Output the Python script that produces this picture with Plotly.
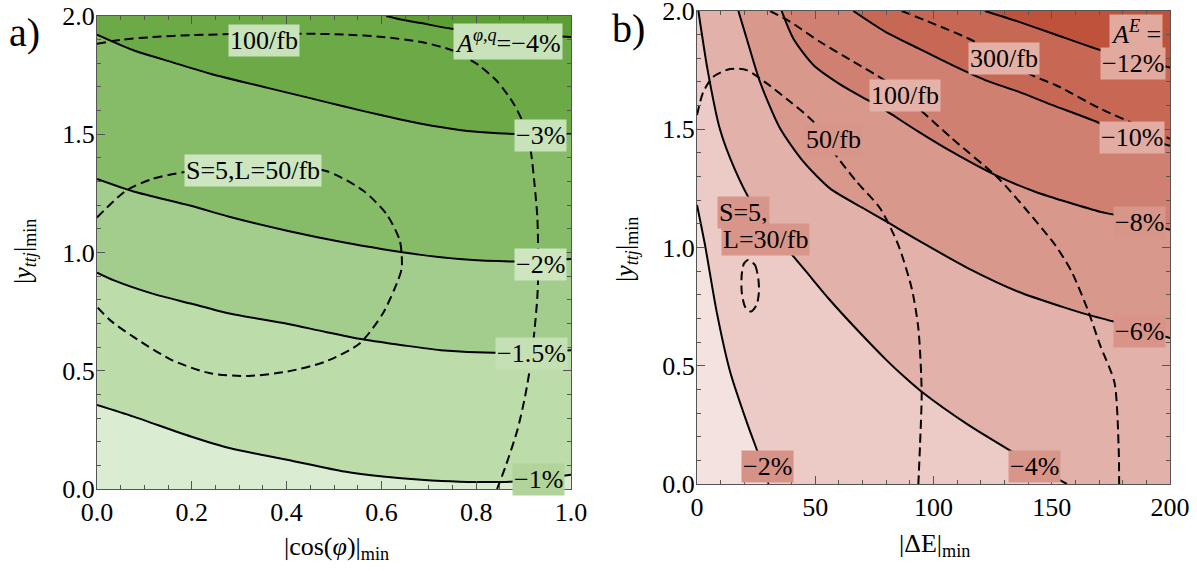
import plotly.graph_objects as go

W, H = 1197, 571

# ---------------- Panel a data: |cos(phi)|_min vs |y_ttj|_min ----------------
a_xrange = [0.0, 1.0]
a_yrange = [0.0, 2.0]
a_xticks = [0.0, 0.2, 0.4, 0.6, 0.8, 1.0]
a_yticks = [0.0, 0.5, 1.0, 1.5, 2.0]

# solid contours of A^{phi,q}
a_m4_x = [0.61, 0.644, 0.684, 0.749, 1.0]
a_m4_y = [2.0, 1.984, 1.970, 1.946, 1.911]
a_m3_x = [0.0, 0.077, 0.158, 0.239, 0.36, 0.441, 0.522, 0.603, 0.684, 0.765, 0.846, 0.883, 1.0]
a_m3_y = [1.921, 1.855, 1.805, 1.756, 1.696, 1.657, 1.617, 1.579, 1.544, 1.518, 1.504, 1.501, 1.501]
a_m2_x = [0.0, 0.077, 0.198, 0.279, 0.401, 0.522, 0.603, 0.684, 0.765, 0.883, 1.0]
a_m2_y = [1.311, 1.258, 1.198, 1.151, 1.092, 1.042, 1.014, 0.990, 0.972, 0.962, 0.972]
a_m15_x = [0.0, 0.036, 0.117, 0.198, 0.279, 0.401, 0.482, 0.563, 0.644, 0.725, 0.838, 1.0]
a_m15_y = [0.915, 0.882, 0.826, 0.784, 0.742, 0.699, 0.664, 0.632, 0.608, 0.587, 0.576, 0.587]
a_m1_x = [0.0, 0.077, 0.198, 0.279, 0.401, 0.522, 0.603, 0.684, 0.765, 0.874, 1.0]
a_m1_y = [0.355, 0.306, 0.222, 0.173, 0.124, 0.074, 0.053, 0.039, 0.031, 0.031, 0.06]

# dashed significance contours
a_l100_x = [0.0, 0.053, 0.117, 0.198, 0.33, 0.441, 0.522, 0.603, 0.684, 0.749, 0.806, 0.846,
            0.879, 0.903, 0.915, 0.923, 0.929, 0.931, 0.929, 0.923, 0.915, 0.903, 0.887, 0.862, 0.844]
a_l100_y = [1.883, 1.900, 1.911, 1.919, 1.925, 1.925, 1.922, 1.911, 1.890, 1.855, 1.791, 1.720,
            1.629, 1.530, 1.431, 1.290, 1.148, 0.936, 0.812, 0.671, 0.531, 0.390, 0.250, 0.096, 0.0]
a_l50_x = [0.0, 0.061, 0.117, 0.182, 0.33, 0.481, 0.562, 0.611, 0.639, 0.643, 0.635, 0.603, 0.554,
           0.481, 0.40, 0.32, 0.239, 0.158, 0.077, 0.028, 0.0]
a_l50_y = [1.148, 1.261, 1.311, 1.339, 1.36, 1.346, 1.261, 1.162, 1.049, 0.936, 0.882, 0.742, 0.615,
           0.538, 0.496, 0.478, 0.489, 0.545, 0.643, 0.713, 0.77]

# ---------------- Panel b data: |Delta E|_min vs |y_ttj|_min ----------------
b_xrange = [0.0, 200.0]
b_yrange = [0.0, 2.0]
b_xticks = [0, 50, 100, 150, 200]
b_yticks = [0.0, 0.5, 1.0, 1.5, 2.0]

b_m2_x = [0.0, 3.4, 8.3, 14.0, 21.0, 26.6, 30.2]
b_m2_y = [1.18, 1.01, 0.729, 0.475, 0.263, 0.109, 0.0]
b_m4_x = [0.6, 4.5, 9.7, 16.0, 23.0, 30.0, 38.0, 46.0, 56.0, 66.0, 80.0, 88.0, 95.0, 114.7, 136.0, 150.0, 156.4]
b_m4_y = [2.0, 1.75, 1.5, 1.33, 1.19, 1.09, 0.995, 0.9, 0.78, 0.67, 0.525, 0.45, 0.39, 0.25, 0.12, 0.035, 0.0]
b_m6_x = [17.5, 21.0, 26.6, 35.1, 45.0, 56.2, 70.3, 80.0, 93.6, 114.7, 135.9, 154.2, 165.5, 175.8, 200.0]
b_m6_y = [2.0, 1.884, 1.701, 1.504, 1.363, 1.25, 1.166, 1.11, 1.03, 0.912, 0.813, 0.75, 0.715, 0.688, 0.617]
b_m8_x = [35.8, 40.7, 49.2, 60.5, 71.8, 78.0, 93.6, 107.7, 126.0, 143.0, 170.4, 177.0, 200.0]
b_m8_y = [2.0, 1.884, 1.772, 1.69, 1.625, 1.59, 1.49, 1.405, 1.307, 1.236, 1.151, 1.137, 1.075]
b_m10_x = [66.1, 79.5, 93.6, 107.7, 121.8, 135.9, 150.0, 170.4, 172.6, 200.0]
b_m10_y = [2.0, 1.913, 1.842, 1.772, 1.708, 1.659, 1.603, 1.525, 1.51, 1.43]
b_m12_x = [121.8, 135.9, 150.0, 170.4, 176.9, 200.0]
b_m12_y = [2.0, 1.955, 1.906, 1.835, 1.818, 1.761]

b_l30_x = [21.7, 24.5, 25.9, 26.2, 25.2, 22.7, 20.3, 18.9, 18.9, 19.9, 21.7]
b_l30_y = [0.947, 0.926, 0.870, 0.813, 0.757, 0.729, 0.75, 0.813, 0.884, 0.933, 0.947]
b_l50_x = [0.0, 2.7, 6.9, 14.0, 21.0, 29.5, 39.3, 49.2, 57.6, 67.5, 77.4, 85.1, 90.8, 93.6, 95.0, 94.3, 93.6]
b_l50_y = [1.56, 1.659, 1.722, 1.755, 1.75, 1.694, 1.617, 1.532, 1.405, 1.278, 1.166, 1.011, 0.827, 0.658, 0.39, 0.165, 0.0]
b_l100_x = [30.9, 39.3, 52.0, 66.1, 80.2, 93.6, 107.7, 127.4, 138.7, 151.4, 158.4, 165.5, 170.4, 176.5, 178.3, 178.5]
b_l100_y = [2.0, 1.955, 1.87, 1.786, 1.701, 1.589, 1.462, 1.293, 1.166, 1.011, 0.898, 0.729, 0.588, 0.43, 0.15, 0.0]
b_l300_x = [86.6, 117.6, 141.6, 152.2, 170.4, 188.0, 200.0]
b_l300_y = [2.0, 1.87, 1.729, 1.684, 1.588, 1.51, 1.46]

# ---------------- styles ----------------
SERIF = "Liberation Serif, Times New Roman, Times, DejaVu Serif, serif"
a_band_colors = ["rgb(92,158,52)", "rgb(108,170,72)", "rgb(134,188,104)",
                 "rgb(163,205,140)", "rgb(188,220,170)", "rgb(218,236,210)"]
b_band_colors = ["rgb(190,82,58)", "rgb(198,104,84)", "rgb(207,128,112)", "rgb(216,152,140)",
                 "rgb(226,178,170)", "rgb(236,202,198)", "rgb(243,226,221)"]

fig = go.Figure()


def poly(xs, ys, color, xa, ya):
    fig.add_trace(go.Scatter(x=xs, y=ys, mode="lines", fill="toself", fillcolor=color,
                             line=dict(width=0, color=color), xaxis=xa, yaxis=ya,
                             hoverinfo="skip", showlegend=False))


def curve(xs, ys, xa, ya, dash=None):
    fig.add_trace(go.Scatter(x=xs, y=ys, mode="lines",
                             line=dict(color="black", width=2, dash=dash or "solid",
                                       shape="spline", smoothing=0.7),
                             xaxis=xa, yaxis=ya, hoverinfo="skip", showlegend=False))


# panel a fills
ax0, ax1 = a_xrange
ay0, ay1 = a_yrange
poly([ax0, ax1, ax1, ax0], [ay0, ay0, ay1, ay1], a_band_colors[0], "x", "y")
poly([ax0] + a_m4_x + [ax1, ax0], [ay1] + a_m4_y + [ay0, ay0], a_band_colors[1], "x", "y")
for cx, cy, col in [(a_m3_x, a_m3_y, a_band_colors[2]), (a_m2_x, a_m2_y, a_band_colors[3]),
                    (a_m15_x, a_m15_y, a_band_colors[4]), (a_m1_x, a_m1_y, a_band_colors[5])]:
    poly(cx + [ax1, ax0], cy + [ay0, ay0], col, "x", "y")
for cx, cy in [(a_m4_x, a_m4_y), (a_m3_x, a_m3_y), (a_m2_x, a_m2_y), (a_m15_x, a_m15_y), (a_m1_x, a_m1_y)]:
    curve(cx, cy, "x", "y")
for cx, cy in [(a_l100_x, a_l100_y), (a_l50_x, a_l50_y)]:
    curve(cx, cy, "x", "y", dash="9px,5px")

# panel b fills
bx0, bx1 = b_xrange
by0, by1 = b_yrange
poly([bx0, bx1, bx1, bx0], [by0, by0, by1, by1], b_band_colors[0], "x2", "y2")
for cx, cy, col in [(b_m12_x, b_m12_y, b_band_colors[1]), (b_m10_x, b_m10_y, b_band_colors[2]),
                    (b_m8_x, b_m8_y, b_band_colors[3]), (b_m6_x, b_m6_y, b_band_colors[4])]:
    poly([bx0] + cx + [bx1, bx0], [by1] + cy + [by0, by0], col, "x2", "y2")
poly([bx0] + b_m4_x + [bx0], [by1] + b_m4_y + [by0], b_band_colors[5], "x2", "y2")
poly(b_m2_x + [bx0], b_m2_y + [by0], b_band_colors[6], "x2", "y2")
for cx, cy in [(b_m2_x, b_m2_y), (b_m4_x, b_m4_y), (b_m6_x, b_m6_y), (b_m8_x, b_m8_y),
               (b_m10_x, b_m10_y), (b_m12_x, b_m12_y)]:
    curve(cx, cy, "x2", "y2")
for cx, cy in [(b_l30_x, b_l30_y), (b_l50_x, b_l50_y), (b_l100_x, b_l100_y), (b_l300_x, b_l300_y)]:
    curve(cx, cy, "x2", "y2", dash="9px,5px")

# ---------------- labels ----------------
ann = []


def lab(text, x, y, bg, xa, ya, xanchor="center", size=26):
    ann.append(dict(text=text, x=x, y=y, xref=xa, yref=ya, showarrow=False, xanchor=xanchor,
                    yanchor="middle", bgcolor=bg, borderpad=1,
                    font=dict(family=SERIF, size=size, color="black")))


lab("100/fb", 0.352, 1.897, "rgb(200,226,186)", "x", "y")
lab("<i>A</i><sup><i>φ,q</i></sup>=−4%", 0.868, 1.894, "rgb(200,226,186)", "x", "y")
lab("−3%", 0.935, 1.494, "rgb(200,226,186)", "x", "y")
lab("S=5,L=50/fb", 0.33, 1.347, "rgb(205,230,192)", "x", "y")
lab("−2%", 0.935, 0.95, "rgb(205,230,192)", "x", "y")
lab("−1.5%", 0.917, 0.573, "rgb(198,224,182)", "x", "y")
lab("−1%", 0.931, 0.04, "rgb(178,212,155)", "x", "y")

lab("<i>A</i><sup><i>E</i></sup> =", 185.5, 1.91, "rgb(226,170,158)", "x2", "y2")
lab("−12%", 184.5, 1.776, "rgb(226,170,158)", "x2", "y2")
lab("300/fb", 130.0, 1.798, "rgb(228,175,165)", "x2", "y2")
lab("100/fb", 88.1, 1.642, "rgb(228,178,168)", "x2", "y2")
lab("50/fb", 57.8, 1.458, "rgb(216,150,138)", "x2", "y2")
lab("−10%", 184.0, 1.465, "rgb(226,172,162)", "x2", "y2")
lab("−8%", 187.0, 1.105, "rgb(216,150,138)", "x2", "y2")
lab("S=5,", 8.4, 1.15, "rgb(216,150,138)", "x2", "y2", xanchor="left")
lab("L=30/fb", 10.0, 1.032, "rgb(216,150,138)", "x2", "y2", xanchor="left")
lab("−6%", 187.0, 0.643, "rgb(216,148,136)", "x2", "y2")
lab("−4%", 142.8, 0.073, "rgb(216,150,138)", "x2", "y2")
lab("−2%", 30.0, 0.073, "rgb(214,146,134)", "x2", "y2")


def paper(text, px, py, size, angle=0):
    ann.append(dict(text=text, x=px / W, y=1 - py / H, xref="paper", yref="paper",
                    showarrow=False, xanchor="center", yanchor="middle", textangle=angle,
                    font=dict(family=SERIF, size=size, color="black")))


paper("a)", 24, 32, 40)
paper("b)", 628, 29, 40)
paper("|cos(<i>φ</i>)|<sub>min</sub>", 336, 548, 26)
paper("|ΔE|<sub>min</sub>", 934, 545, 26)
paper("|<i>y<sub>ttj</sub></i>|<sub>min</sub>", 24, 252, 26, angle=-90)
paper("|<i>y<sub>ttj</sub></i>|<sub>min</sub>", 626, 250, 26, angle=-90)

# ---------------- axes ----------------
AXC = "#555555"
tickfont = dict(family=SERIF, size=26, color="black")


def axis(domain, rng, tickvals, fmt, minor_dtick, anchor, standoff):
    return dict(domain=domain, range=rng, tickvals=tickvals, tickformat=fmt, anchor=anchor,
                automargin=False, ticklabeloverflow="allow",
                showgrid=False, zeroline=False, showline=True, linecolor=AXC, linewidth=1,
                mirror="ticks", ticks="inside", ticklen=8, tickwidth=1, tickcolor=AXC,
                minor=dict(ticks="inside", dtick=minor_dtick, ticklen=4, tickcolor=AXC, showgrid=False),
                tickfont=tickfont, ticklabelstandoff=standoff, fixedrange=True)


fig.update_layout(
    template="none",
    width=W, height=H, margin=dict(l=0, r=0, t=0, b=0, pad=0), autosize=False,
    paper_bgcolor="white", plot_bgcolor="white", showlegend=False,
    font=dict(family=SERIF, size=26, color="black"),
    xaxis=axis([97 / W, 571 / W], a_xrange, a_xticks, ".1f", 0.05, "y", 0),
    yaxis=axis([1 - 489 / H, 1 - 16 / H], a_yrange, a_yticks, ".1f", 0.1, "x", -4),
    xaxis2=axis([697 / W, 1170 / W], b_xrange, b_xticks, "d", 10, "y2", 0),
    yaxis2=axis([1 - 484 / H, 1 - 11 / H], b_yrange, b_yticks, ".1f", 0.1, "x2", -4),
    annotations=ann,
)

fig.write_html("out.html", config={"displayModeBar": False, "staticPlot": True},
               post_script="document.body.style.margin='0';")
